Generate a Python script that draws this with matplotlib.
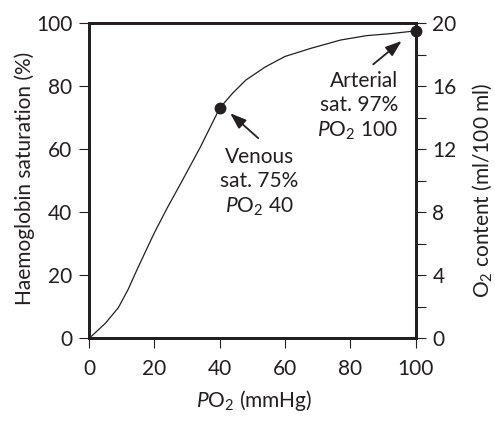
import matplotlib
matplotlib.use("Agg")
import matplotlib.pyplot as plt

plt.rcParams['font.family'] = ['Lato', 'DejaVu Sans']
plt.rcParams['mathtext.fontset'] = 'custom'
plt.rcParams['mathtext.rm'] = 'Lato'
plt.rcParams['mathtext.it'] = 'Lato:italic'
plt.rcParams['mathtext.default'] = 'rm'

# Data
po2 = [0, 5, 9, 12, 15, 20, 24, 28, 34, 40, 44, 48, 54, 60, 68, 77, 85, 92, 100]
saturation = [0, 4.8, 9.8, 15.6, 22.5, 33.5, 41.5, 49, 60.5, 73, 77.8, 81.9,
              86.1, 89.4, 92, 94.6, 96, 96.6, 97.5]
marker_po2 = [40, 100]
marker_sat = [73, 97.5]
x_ticks = [0, 20, 40, 60, 80, 100]
left_ticks = [0, 20, 40, 60, 80, 100]
right_ticks = [0, 4, 8, 12, 16, 20]
right_minor = [2, 6, 10, 14, 18]

INK = '#231f20'
FS = 15

fig = plt.figure(figsize=(4.95, 4.22), dpi=100)
ax = fig.add_axes([0.1798, 0.1979, 0.66, 0.7476])
ax2 = ax.twinx()

ax.plot(po2, saturation, color=INK, lw=0.9, zorder=3)
ax.plot(marker_po2, marker_sat, 'o', color=INK, ms=7.5, clip_on=False, zorder=5)

ax.set_xlim(0, 100)
ax.set_ylim(0, 100)
ax2.set_ylim(0, 20)
ax.set_xticks(x_ticks)
ax.set_yticks(left_ticks)
ax2.set_yticks(right_ticks)
ax2.set_yticks(right_minor, minor=True)
ax.set_xticklabels([str(v) for v in x_ticks])
ax.set_yticklabels([str(v) for v in left_ticks])
ax2.set_yticklabels([str(v) for v in right_ticks])

for a in (ax, ax2):
    for s in a.spines.values():
        s.set_linewidth(2.0)
        s.set_color(INK)

ax.tick_params(axis='x', direction='out', length=7, width=0.8, pad=8, labelsize=FS, colors=INK)
ax.tick_params(axis='y', direction='out', length=7, width=0.8, pad=5, labelsize=FS, colors=INK)
ax2.tick_params(axis='y', which='both', direction='out', length=7, width=0.8, pad=5, labelsize=FS, colors=INK)

fig.text(0.5125, 0.052, r'$\mathit{P}$O$_2$ (mmHg)', fontsize=FS, color=INK,
         ha='center', va='center')
fig.text(0.05, 0.578, 'Haemoglobin saturation (%)', fontsize=FS, color=INK,
         ha='center', va='center', rotation=90)
fig.text(0.9737, 0.5498, r'O$_2$ content (ml/100 ml)', fontsize=FS, color=INK,
         ha='center', va='center', rotation=90)

ax.text(52.2, 49.5, 'Venous\nsat. 75%\n$\\mathit{P}$O$_2$ 40', ha='center', va='center',
        fontsize=FS, color=INK, linespacing=1.25)
ax.text(94.6, 73.5, 'Arterial\nsat. 97%\n$\\mathit{P}$O$_2$ 100', ha='right', va='center',
        fontsize=FS, color=INK, linespacing=1.25)

arrow = dict(arrowstyle='-|>,head_length=0.7,head_width=0.25', lw=1.3, color=INK,
             mutation_scale=14, shrinkA=0, shrinkB=0)
ax.annotate('', xy=(43.2, 71.4), xytext=(51.8, 63.5), arrowprops=arrow)
ax.annotate('', xy=(95.7, 94.3), xytext=(87.0, 86.9), arrowprops=arrow)

fig.savefig('out.png', dpi=100)
